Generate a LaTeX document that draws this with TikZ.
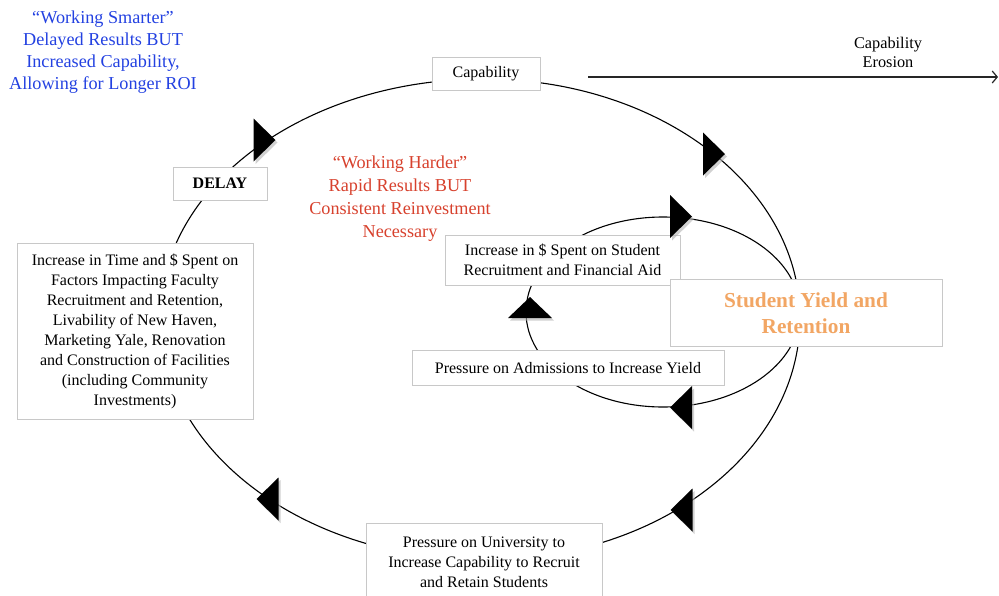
\documentclass[tikz,border=0pt]{standalone}
\usepackage{fontspec}
\setmainfont{Liberation Serif}
\usetikzlibrary{arrows.meta}
\definecolor{boxgray}{RGB}{200,200,200}
\definecolor{blueT}{RGB}{35,65,225}
\definecolor{redT}{RGB}{215,65,45}
\definecolor{orangeT}{RGB}{242,166,100}
\tikzset{
  box/.style={draw=boxgray, fill=white, line width=0.6pt, inner sep=0pt, align=center,
    font=\fontsize{16}{20}\selectfont},
  loopline/.style={line width=1.1pt, black},
  rtri/.pic={\fill[black!30, opacity=0.6] (-9,-19) -- (13,2.5) -- (-9,24) -- cycle;
             \fill[black] (-11,-21.5) -- (11,0) -- (-11,21.5) -- cycle;},
  ltri/.pic={\fill[black!30, opacity=0.6] (13,-19) -- (-9,2.5) -- (13,24) -- cycle;
             \fill[black] (11,-21.5) -- (-11,0) -- (11,21.5) -- cycle;},
  utri/.pic={\fill[black!30, opacity=0.6] (-20,13) -- (2,-8) -- (24,13) -- cycle;
             \fill[black] (-22,10.5) -- (0,-10.5) -- (22,10.5) -- cycle;}
}
\begin{document}
\begin{tikzpicture}[x=1pt,y=-1pt]
\useasboundingbox (0,0) rectangle (999,595);

% key points of the loops (inside the boxes)
\coordinate (oT) at (484,79);
\coordinate (oR) at (800,318);
\coordinate (oB) at (484,560);
\coordinate (oL) at (160,318);
\coordinate (iT) at (663,217);
\coordinate (iR) at (800,312);
\coordinate (iB) at (663,407);
\coordinate (iL) at (526,312);
\coordinate (eS) at (588,77);
\coordinate (eE) at (998,77);

% outer loop
\draw[loopline] (oT) .. controls (658.5,79) and (800,186) .. (oR)
  .. controls (800,451.7) and (658.5,560) .. (oB)
  .. controls (305,560) and (160,451.7) .. (oL)
  .. controls (160,186) and (305,79) .. (oT);
% inner loop
\draw[loopline] (iT) .. controls (738.7,217) and (800,259.5) .. (iR)
  .. controls (800,364.5) and (738.7,407) .. (iB)
  .. controls (587.3,407) and (526,364.5) .. (iL)
  .. controls (526,259.5) and (587.3,217) .. (iT);

% erosion arrow
\draw[line width=1.2pt, black!85, -{Straight Barb[length=5pt,width=12pt,line width=1.2pt]}] (eS) -- (eE);

% boxes
\node[box, minimum width=108pt, minimum height=33pt] (cap) at (486,73.5) {Capability};
\node[box, minimum width=94pt, minimum height=33pt] (delay) at (220,183.5) {\textbf{DELAY}};
\node[box, minimum width=236pt, minimum height=176pt] (faculty) at (135,331)
  {Increase in Time and \$ Spent on\\Factors Impacting Faculty\\Recruitment and Retention,\\Livability of New Haven,\\Marketing Yale, Renovation\\and Construction of Facilities\\(including Community\\Investments)};
\node[box, minimum width=235pt, minimum height=50pt] (inc) at (562.5,260)
  {Increase in \$ Spent on Student\\Recruitment and Financial Aid};
\node[box, minimum width=272pt, minimum height=67pt, text=orangeT,
  font=\fontsize{21.3}{26}\selectfont\bfseries] (syr) at (806,313)
  {Student Yield and\\Retention};
\node[box, minimum width=312pt, minimum height=35pt] (adm) at (568,368)
  {Pressure on Admissions to Increase Yield};
\node[box, minimum width=236pt, minimum height=78pt] (puniv) at (484,562.5)
  {Pressure on University to\\Increase Capability to Recruit\\and Retain Students};

% arrowheads
\pic at (264.5,140) {rtri};
\pic at (714,154) {rtri};
\pic at (681,216.5) {rtri};
\pic at (530,307.5) {utri};
\pic at (681,407.5) {ltri};
\pic at (681.5,510) {ltri};
\pic at (267.5,499) {ltri};

% free labels
\node[align=center, text=blueT, font=\fontsize{18.2}{22}\selectfont] (smart) at (103,52)
  {“Working Smarter”\\Delayed Results BUT\\Increased Capability,\\Allowing for Longer ROI};
\node[align=center, text=redT, font=\fontsize{18.2}{23}\selectfont] (hard) at (400,199)
  {“Working Harder”\\Rapid Results BUT\\Consistent Reinvestment\\Necessary};
\node[align=center, font=\fontsize{16.3}{19}\selectfont] (erosion) at (888,52.5)
  {Capability\\Erosion};
\end{tikzpicture}
\end{document}
